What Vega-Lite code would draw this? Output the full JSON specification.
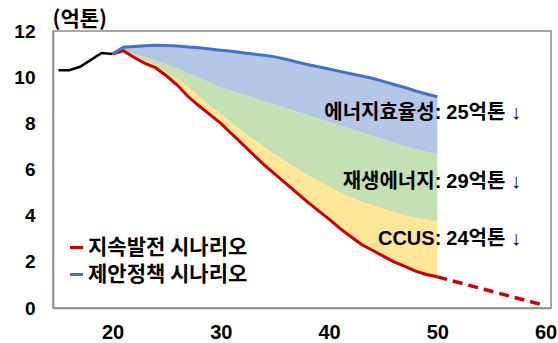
{
  "$schema": "https://vega.github.io/schema/vega-lite/v6.json",
  "width": 498,
  "height": 277,
  "autosize": {"type": "none"},
  "padding": {"left": 53, "top": 31, "right": 7, "bottom": 35},
  "background": "white",
  "config": {
    "view": {"stroke": "#8c8c8c", "strokeWidth": 1.5},
    "axis": {
      "grid": false,
      "ticks": false,
      "domainColor": "#8c8c8c",
      "domainWidth": 1.5,
      "labelFont": "Liberation Sans",
      "labelFontWeight": "bold",
      "labelColor": "#000000"
    }
  },
  "datasets": {
    "history": [
      {"year": 15, "value": 10.3},
      {"year": 16, "value": 10.3},
      {"year": 17, "value": 10.45},
      {"year": 18, "value": 10.75},
      {"year": 19, "value": 11.05},
      {"year": 20, "value": 11.0}
    ],
    "scenario": [
      {"year": 20, "blue": 11.0, "eff": 11.0, "ren": 11.0, "red": 11.0},
      {"year": 21, "blue": 11.3, "eff": 11.15, "ren": 11.15, "red": 11.15},
      {"year": 22, "blue": 11.33, "eff": 11.0, "ren": 10.9, "red": 10.85},
      {"year": 23, "blue": 11.36, "eff": 10.85, "ren": 10.7, "red": 10.6},
      {"year": 24, "blue": 11.38, "eff": 10.7, "ren": 10.5, "red": 10.4},
      {"year": 25, "blue": 11.37, "eff": 10.55, "ren": 10.2, "red": 10.05},
      {"year": 26, "blue": 11.35, "eff": 10.35, "ren": 9.9, "red": 9.65},
      {"year": 27, "blue": 11.31, "eff": 10.15, "ren": 9.55, "red": 9.15},
      {"year": 28, "blue": 11.27, "eff": 9.95, "ren": 9.15, "red": 8.75},
      {"year": 29, "blue": 11.22, "eff": 9.75, "ren": 8.75, "red": 8.38},
      {"year": 30, "blue": 11.17, "eff": 9.55, "ren": 8.4, "red": 8.0},
      {"year": 31, "blue": 11.12, "eff": 9.4, "ren": 8.0, "red": 7.55},
      {"year": 32, "blue": 11.06, "eff": 9.25, "ren": 7.65, "red": 7.1},
      {"year": 33, "blue": 11.0, "eff": 9.1, "ren": 7.3, "red": 6.65},
      {"year": 34, "blue": 10.95, "eff": 8.95, "ren": 6.97, "red": 6.2},
      {"year": 35, "blue": 10.88, "eff": 8.8, "ren": 6.65, "red": 5.8},
      {"year": 36, "blue": 10.78, "eff": 8.65, "ren": 6.35, "red": 5.4},
      {"year": 37, "blue": 10.66, "eff": 8.5, "ren": 6.05, "red": 5.0},
      {"year": 38, "blue": 10.55, "eff": 8.35, "ren": 5.75, "red": 4.6},
      {"year": 39, "blue": 10.45, "eff": 8.2, "ren": 5.5, "red": 4.22},
      {"year": 40, "blue": 10.35, "eff": 8.05, "ren": 5.25, "red": 3.85},
      {"year": 41, "blue": 10.25, "eff": 7.9, "ren": 5.0, "red": 3.45},
      {"year": 42, "blue": 10.15, "eff": 7.75, "ren": 4.8, "red": 3.1},
      {"year": 43, "blue": 10.05, "eff": 7.6, "ren": 4.6, "red": 2.75},
      {"year": 44, "blue": 9.95, "eff": 7.45, "ren": 4.45, "red": 2.5},
      {"year": 45, "blue": 9.82, "eff": 7.3, "ren": 4.3, "red": 2.25},
      {"year": 46, "blue": 9.68, "eff": 7.15, "ren": 4.15, "red": 2.0},
      {"year": 47, "blue": 9.55, "eff": 7.0, "ren": 4.0, "red": 1.8},
      {"year": 48, "blue": 9.4, "eff": 6.88, "ren": 3.9, "red": 1.6},
      {"year": 49, "blue": 9.27, "eff": 6.76, "ren": 3.82, "red": 1.45},
      {"year": 50, "blue": 9.15, "eff": 6.65, "ren": 3.75, "red": 1.35}
    ],
    "tail": [
      {"year": 50, "value": 1.35},
      {"year": 60, "value": 0.1}
    ],
    "notes": [
      {"year": 50, "label": "에너지효율성:", "amount": "25억톤 ↓", "level": 8.46},
      {"year": 50, "label": "재생에너지:", "amount": "29억톤 ↓", "level": 5.48},
      {"year": 50, "label": "CCUS:", "amount": "24억톤 ↓", "level": 2.98}
    ]
  },
  "encoding": {
    "x": {
      "field": "year",
      "type": "quantitative",
      "scale": {"domain": [14.5, 60.5], "nice": false, "zero": false},
      "axis": {"values": [20, 30, 40, 50, 60], "labelFontSize": 20, "labelPadding": 14, "title": null}
    }
  },
  "layer": [
    {
      "data": {"name": "scenario"},
      "transform": [{"filter": "datum.year >= 21"}],
      "mark": {"type": "area", "color": "#B4C7E7", "opacity": 1},
      "encoding": {
        "y": {
          "field": "blue",
          "type": "quantitative",
          "scale": {"domain": [0, 12], "nice": false},
          "axis": {
            "values": [0, 2, 4, 6, 8, 10, 12],
            "labelFontSize": 19,
            "labelPadding": 18,
            "title": "(억톤)",
            "titleAngle": 0,
            "titleX": -1,
            "titleY": -6,
            "titleAlign": "left",
            "titleBaseline": "alphabetic",
            "titleFont": "Noto Sans CJK KR",
            "titleFontSize": 21,
            "titleFontWeight": "bold",
            "titleColor": "#000000"
          }
        },
        "y2": {"field": "eff"}
      }
    },
    {
      "data": {"name": "scenario"},
      "transform": [{"filter": "datum.year >= 21"}],
      "mark": {"type": "area", "color": "#C5E0B4", "opacity": 1},
      "encoding": {
        "y": {"field": "eff", "type": "quantitative"},
        "y2": {"field": "ren"}
      }
    },
    {
      "data": {"name": "scenario"},
      "transform": [{"filter": "datum.year >= 21"}],
      "mark": {"type": "area", "color": "#FFE699", "opacity": 1},
      "encoding": {
        "y": {"field": "ren", "type": "quantitative"},
        "y2": {"field": "red"}
      }
    },
    {
      "data": {"name": "history"},
      "mark": {"type": "line", "color": "#000000", "strokeWidth": 2.5},
      "encoding": {
        "y": {"field": "value", "type": "quantitative"}
      }
    },
    {
      "data": {"name": "tail"},
      "mark": {"type": "line", "color": "#D00000", "strokeWidth": 3.5, "strokeDash": [10, 6]},
      "encoding": {
        "y": {"field": "value", "type": "quantitative"}
      }
    },
    {
      "data": {"name": "scenario"},
      "transform": [{"fold": ["red", "blue"], "as": ["series", "value"]}],
      "mark": {"type": "line", "strokeWidth": 3},
      "encoding": {
        "y": {"field": "value", "type": "quantitative"},
        "color": {
          "field": "series",
          "type": "nominal",
          "scale": {"domain": ["red", "blue"], "range": ["#D00000", "#4472C4"]},
          "legend": {
            "orient": "none",
            "legendX": 13,
            "legendY": 206,
            "direction": "vertical",
            "title": null,
            "symbolType": "stroke",
            "symbolSize": 170,
            "symbolStrokeWidth": 3,
            "labelOffset": 1,
            "labelLimit": 400,
            "labelFont": "Noto Sans CJK KR",
            "labelFontSize": 21,
            "labelFontWeight": "bold",
            "labelColor": "#000000",
            "rowPadding": 5,
            "labelExpr": "datum.value == 'red' ? '지속발전 시나리오' : '제안정책 시나리오'"
          }
        }
      }
    },
    {
      "data": {"name": "notes"},
      "mark": {"type": "text", "align": "right", "baseline": "middle", "dx": 4, "font": "Liberation Sans, Noto Sans CJK KR", "fontSize": 20, "fontWeight": "bold", "color": "#000000"},
      "encoding": {
        "y": {"field": "level", "type": "quantitative"},
        "text": {"field": "label", "type": "nominal"}
      }
    },
    {
      "data": {"name": "notes"},
      "mark": {"type": "text", "align": "left", "baseline": "middle", "dx": 9, "font": "Liberation Sans, Noto Sans CJK KR", "fontSize": 20, "fontWeight": "bold", "color": "#000000"},
      "encoding": {
        "y": {"field": "level", "type": "quantitative"},
        "text": {"field": "amount", "type": "nominal"}
      }
    }
  ]
}
